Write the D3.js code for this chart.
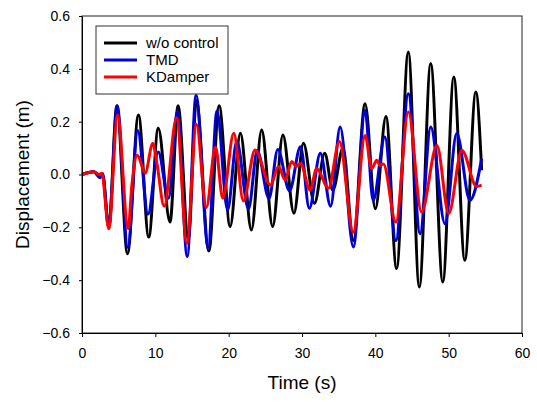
<!DOCTYPE html>
<html>
<head>
<meta charset="utf-8">
<script src="https://cdn.jsdelivr.net/npm/d3@7"></script>
<style>
  body { margin: 0; background: #fff; }
  text { font-family: "Liberation Sans", Arial, sans-serif; fill: #000; }
</style>
</head>
<body>
<svg id="chart" width="537" height="402"></svg>
<script>
// chart data (time in s, displacement in m) - peaks/troughs
const seriesNames = ["w/o control", "TMD", "KDamper"];
const seriesColors = ["#000000", "#0000d8", "#ff0000"];
const xTicks = [0, 10, 20, 30, 40, 50, 60];
const yTicks = [-0.6, -0.4, -0.2, 0, 0.2, 0.4, 0.6];

const noControl = [
  [0, 0], [1.6, 0.01], [2.5, -0.01], [2.8, 0.003], [3.65, -0.2], [4.75, 0.26],
  [6.2, -0.3], [7.7, 0.225], [9.1, -0.237], [10.4, 0.175], [12.0, -0.18],
  [13.1, 0.26], [14.5, -0.243], [15.6, 0.28], [17.3, -0.29], [18.7, 0.26],
  [20.2, -0.197], [21.6, 0.156], [23.1, -0.21], [24.5, 0.168], [26.0, -0.197],
  [27.4, 0.15], [28.9, -0.147], [30.2, 0.118], [31.7, -0.109], [33.1, 0.08],
  [34.2, -0.06], [35.6, 0.1], [37.0, -0.25], [38.6, 0.268], [40.0, -0.13],
  [41.45, 0.22], [42.9, -0.356], [44.5, 0.464], [46.0, -0.426], [47.55, 0.42],
  [49.2, -0.407], [50.7, 0.369], [52.2, -0.325], [53.7, 0.312], [54.5, 0.016]
];

const tmd = [
  [0, 0], [1.6, 0.01], [2.5, -0.012], [2.8, 0.003], [3.65, -0.2], [4.8, 0.26],
  [6.25, -0.275], [7.6, 0.167], [9.0, -0.15], [10.4, 0.085], [11.8, -0.09],
  [13.0, 0.24], [14.35, -0.31], [15.55, 0.3], [17.2, -0.275], [18.4, 0.24],
  [19.85, -0.134], [21.1, 0.125], [22.7, -0.13], [23.9, 0.09], [25.5, -0.09],
  [26.7, 0.095], [28.3, -0.062], [29.8, 0.105], [31.0, -0.128], [32.5, 0.08],
  [33.9, -0.12], [35.2, 0.18], [37.0, -0.274], [38.6, 0.243], [39.7, -0.098],
  [41.3, 0.142], [42.8, -0.25], [44.5, 0.306], [46.1, -0.224], [47.55, 0.18],
  [49.5, -0.186], [51.1, 0.155], [52.9, -0.098], [54.5, 0.06]
];

const kdamper = [
  [0, 0], [1.6, 0.01], [2.4, 0], [2.7, 0.005], [3.65, -0.205], [4.85, 0.225],
  [6.3, -0.205], [6.8, -0.04], [7.55, 0.073], [8.6, 0.005], [9.65, 0.117],
  [10.2, 0.045], [11.2, -0.12], [12.9, 0.215], [14.3, -0.26], [15.6, 0.19],
  [16.95, -0.125], [18.2, 0.104], [19.2, -0.09], [20.7, 0.156], [22.0, -0.1],
  [23.6, 0.093], [25.7, -0.04], [26.8, 0.03], [27.7, -0.02], [28.6, 0.049],
  [29.2, 0.03], [29.8, 0.042], [31.1, -0.059], [32.0, 0.023], [33.6, -0.052],
  [35.1, 0.125], [37.0, -0.218], [38.6, 0.148], [39.5, 0.022], [40.2, 0.054],
  [40.6, 0.035], [41.1, 0.04], [42.8, -0.18], [44.5, 0.237], [46.3, -0.142],
  [48.4, 0.11], [50.0, -0.148], [51.8, 0.092], [53.8, -0.045], [54.5, -0.04]
];

const allSeries = [noControl, tmd, kdamper];

const width = 537;
const height = 402;
const margin = { top: 16, right: 15, bottom: 69, left: 82 };

const svg = d3.select("#chart");

const xScale = d3.scaleLinear()
  .domain([0, 60])
  .range([margin.left, width - margin.right]);

const yScale = d3.scaleLinear()
  .domain([-0.6, 0.6])
  .range([height - margin.bottom, margin.top]);

// frame
svg.append("rect")
  .attr("x", margin.left)
  .attr("y", margin.top)
  .attr("width", width - margin.left - margin.right)
  .attr("height", height - margin.top - margin.bottom)
  .attr("fill", "none")
  .attr("stroke", "#222")
  .attr("stroke-width", 1);

const line = d3.line()
  .x((d) => xScale(d[0]))
  .y((d) => yScale(d[1]))
  .curve(d3.curveMonotoneX);

svg.append("g")
  .selectAll("path")
  .data(allSeries)
  .join("path")
  .attr("d", line)
  .attr("fill", "none")
  .attr("stroke", (d, i) => seriesColors[i])
  .attr("stroke-width", 3)
  .attr("stroke-linejoin", "round");

const xAxis = d3.axisBottom(xScale)
  .tickValues(xTicks)
  .tickFormat(d3.format("d"))
  .tickSize(4)
  .tickSizeOuter(0)
  .tickPadding(11);

svg.append("g")
  .attr("transform", `translate(0,${height - margin.bottom})`)
  .call(xAxis)
  .call((g) => g.select(".domain").attr("stroke", "#000"))
  .call((g) => g.selectAll("text").attr("font-size", 14).attr("font-family", null));

const yAxis = d3.axisLeft(yScale)
  .tickValues(yTicks)
  .tickFormat(d3.format(".1f"))
  .tickSize(3)
  .tickSizeOuter(0)
  .tickPadding(9);

svg.append("g")
  .attr("transform", `translate(${margin.left},0)`)
  .call(yAxis)
  .call((g) => g.selectAll("text").attr("font-size", 14).attr("font-family", null));

// axis titles
svg.append("text")
  .attr("x", (margin.left + width - margin.right) / 2)
  .attr("y", 389)
  .attr("text-anchor", "middle")
  .attr("font-size", 19)
  .text("Time (s)");

svg.append("text")
  .attr("transform", `translate(29,${(margin.top + height - margin.bottom) / 2}) rotate(-90)`)
  .attr("text-anchor", "middle")
  .attr("font-size", 19)
  .text("Displacement (m)");

// legend
const legend = svg.append("g");
legend.append("rect")
  .attr("x", 96)
  .attr("y", 26)
  .attr("width", 132)
  .attr("height", 68)
  .attr("fill", "#fff")
  .attr("stroke", "#333")
  .attr("stroke-width", 1);

const rows = legend.selectAll("g.row")
  .data(seriesNames)
  .join("g")
  .attr("class", "row")
  .attr("transform", (d, i) => `translate(0,${43 + i * 17})`);

rows.append("line")
  .attr("x1", 104)
  .attr("x2", 137)
  .attr("stroke", (d, i) => seriesColors[i])
  .attr("stroke-width", 3);

rows.append("text")
  .attr("x", 146)
  .attr("y", 5)
  .attr("font-size", 15)
  .text((d) => d);
</script>
</body>
</html>
